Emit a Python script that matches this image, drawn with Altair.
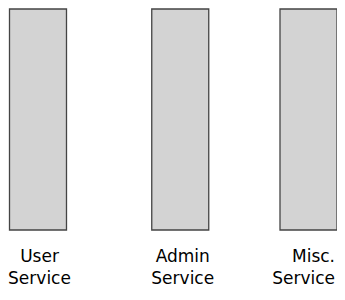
import altair as alt
import pandas as pd

services = ["User", "Admin", "Misc."]
line2 = ["Service", "Service", "Service"]

df = pd.DataFrame({
    "service": services,
    "label": [f"{a}\n{b}" for a, b in zip(services, line2)],
})

xscale = alt.Scale(type="point", domain=services, range=[30, 300.5], padding=0)
xenc = alt.X("service:N", scale=xscale, axis=None)

# small per-column nudges to match the uneven spacing in the reference
bar_shift = {"User": 0, "Admin": 7, "Misc.": 0}
label_shift = {"User": 1.5, "Admin": 9.5, "Misc.": 26.5}
label_align = {"User": "center", "Admin": "center", "Misc.": "right"}

layers = []
for s in services:
    base = alt.Chart(df).transform_filter(alt.datum.service == s)
    layers.append(
        base.mark_bar(
            size=57, fill="#d3d3d3", stroke="#444444", strokeWidth=1.3,
            xOffset=bar_shift[s],
        ).encode(x=xenc, y=alt.value(1), y2=alt.value(222))
    )
    layers.append(
        base.mark_text(
            font="DejaVu Sans", fontSize=17, lineBreak="\n", lineHeight=22,
            baseline="alphabetic", align=label_align[s], color="#000000",
            dx=label_shift[s],
        ).encode(x=xenc, y=alt.value(253.5), text="label:N")
    )

chart = alt.layer(*layers).properties(
    width=329, height=280, padding=0, autosize=alt.AutoSizeParams(type="none")
).configure_view(stroke=None)

chart.save("out.html", embed_options={"renderer": "svg", "actions": False})
